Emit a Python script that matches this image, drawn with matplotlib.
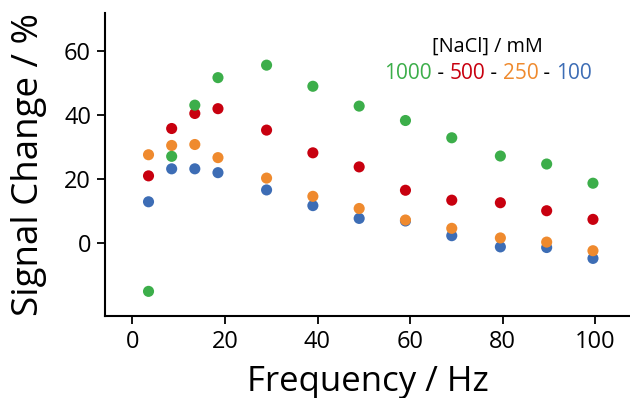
import matplotlib
matplotlib.use("Agg")
import matplotlib.pyplot as plt
from matplotlib.offsetbox import TextArea, HPacker, AnnotationBbox

plt.rcParams['font.family'] = ['Open Sans', 'DejaVu Sans']

# frequency / Hz
freq = [3.5, 8.5, 13.5, 18.5, 29, 39, 49, 59, 69, 79.5, 89.5, 99.5]

# signal change / % for each [NaCl] / mM
nacl_1000 = [-15.0, 27.2, 43.2, 51.8, 55.7, 49.1, 42.9, 38.4, 33.0, 27.3, 24.8, 18.8]
nacl_500 = [21.1, 35.9, 40.6, 42.1, 35.4, 28.3, 23.9, 16.6, 13.5, 12.7, 10.2, 7.5]
nacl_250 = [27.7, 30.6, 30.9, 26.8, 20.4, 14.7, 10.9, 7.3, 4.7, 1.7, 0.4, -2.3]
nacl_100 = [13.0, 23.3, 23.3, 22.1, 16.7, 11.8, 7.8, 7.0, 2.4, -1.1, -1.3, -4.7]

labels = ['1000', '500', '250', '100']
colors = ['#3cae4a', '#c8000f', '#ef8a2e', '#3d6db5']

fig = plt.figure(figsize=(6.3, 3.98), dpi=100)
ax = fig.add_axes([105/630, 82/398, 525/630, 303/398])

# draw in reverse so the blue sits at the bottom
series = [nacl_1000, nacl_500, nacl_250, nacl_100]
for vals, c in zip(series[::-1], colors[::-1]):
    ax.scatter(freq, vals, s=64, color=c, edgecolors='none', zorder=3)

ax.set_xlim(-5.9, 107.5)
ax.set_ylim(-22.7, 72)
ax.set_xticks([0, 20, 40, 60, 80, 100])
ax.set_yticks([0, 20, 40, 60])

for s in ['top', 'right']:
    ax.spines[s].set_visible(False)
for s in ['left', 'bottom']:
    ax.spines[s].set_linewidth(1.5)
ax.tick_params(direction='out', length=6, width=1.3, labelsize=17, pad=4)

ax.set_xlabel('Frequency / Hz', fontsize=25, labelpad=8)
ax.set_ylabel('Signal Change / %', fontsize=26.5, labelpad=12)

# legend-like title
fig.text(487/630, 1 - 46.5/398, '[NaCl] / mM', fontsize=14.3, ha='center', va='center')

parts = []
for i, (lab, c) in enumerate(zip(labels, colors)):
    parts.append(TextArea(lab, textprops=dict(color=c, fontsize=15)))
    if i < len(labels) - 1:
        parts.append(TextArea(' - ', textprops=dict(color='black', fontsize=15)))
box = HPacker(children=parts, align='baseline', pad=0, sep=0)
ab = AnnotationBbox(box, (488/630, 1 - 73.5/398), xycoords='figure fraction',
                    frameon=False, box_alignment=(0.5, 0.5))
fig.add_artist(ab)

fig.savefig('out.png', dpi=100)
